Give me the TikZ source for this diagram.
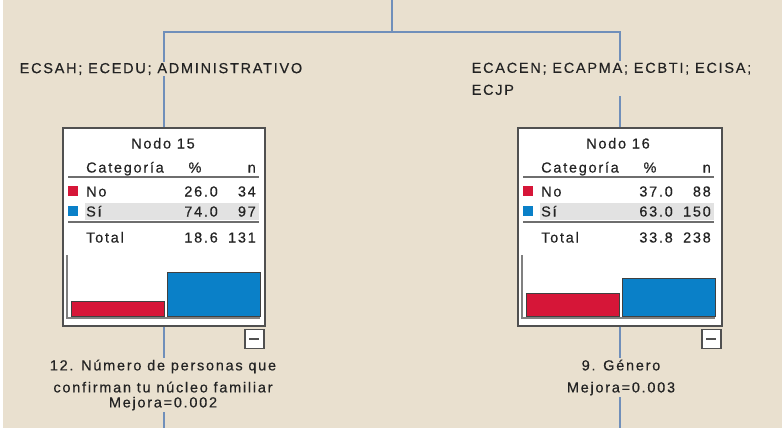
\documentclass[tikz,border=0pt]{standalone}
\usepackage{fontspec}
\setmainfont{Liberation Sans}[LetterSpace=12,FakeBold=0.4]
\definecolor{bg}{RGB}{233,224,207}
\definecolor{linec}{RGB}{112,143,186}
\definecolor{boxc}{RGB}{80,80,80}
\definecolor{redc}{RGB}{214,22,56}
\definecolor{bluec}{RGB}{10,128,200}
\definecolor{rowg}{RGB}{226,226,226}
\definecolor{ruleg}{RGB}{110,110,110}
\definecolor{txtc}{RGB}{35,35,35}
\tikzset{
  conn/.style={draw=linec, line width=1.8pt},
  lbl/.style={fill=bg, inner sep=1.5pt, text=txtc},
  nodebox/.style={draw=boxc, fill=white, line width=1.6pt, anchor=north west, inner sep=0pt},
  txt/.style={inner sep=0pt, text height=10pt, text depth=3pt, text=txtc},
  tabrule/.style={draw=ruleg, line width=2.2pt},
  bar/.style={draw=black!75, line width=1pt},
  minusbox/.style={draw=boxc, fill=white, line width=1.4pt, minimum width=19pt, minimum height=19pt, anchor=north east, inner sep=0pt},
}
\newcommand\pfx{}
\newcommand\NodeBody[9]{%
  \node[txt] (\pfx-title) at (101,18) {#1};
  \node[txt,anchor=west] (\pfx-cat) at (24,42) {Categoría};
  \node[txt] (\pfx-pc) at (133,42) {\%};
  \node[txt,anchor=east] (\pfx-n) at (194,42) {n};
  \draw[tabrule] (6,50) -- (197,50);
  \fill[rowg] (23,76) rectangle (197,93);
  \fill[redc] (6,59) rectangle (16,69);
  \fill[bluec] (6,79) rectangle (16,89);
  \node[txt,anchor=west] (\pfx-no) at (24,66) {No};
  \node[txt,anchor=east] (\pfx-nop) at (156,66) {#2};
  \node[txt,anchor=east] (\pfx-non) at (194,66) {#3};
  \node[txt,anchor=west] (\pfx-si) at (24,86) {Sí};
  \node[txt,anchor=east] (\pfx-sip) at (156,86) {#4};
  \node[txt,anchor=east] (\pfx-sin) at (194,86) {#5};
  \draw[tabrule] (6,95) -- (197,95);
  \node[txt,anchor=west] (\pfx-tot) at (24,112) {Total};
  \node[txt,anchor=east] (\pfx-totp) at (156,112) {#6};
  \node[txt,anchor=east] (\pfx-totn) at (194,112) {#7};
  \draw[draw=gray, line width=1.6pt] (5,128) -- (5,191) -- (198,191);
  \filldraw[bar, fill=redc] (9,#8) rectangle (102,189);
  \filldraw[bar, fill=bluec] (105,#9) rectangle (198,189);
}
\begin{document}
\begin{tikzpicture}[x=1pt,y=-1pt, font=\fontsize{14.5}{16}\selectfont]
\useasboundingbox (0,0) rectangle (782,428);
\fill[bg] (0,0) rectangle (782,428);
\fill[white] (0,0) rectangle (3,428);
% boxes
\node[nodebox, minimum width=202pt, minimum height=198pt] (n15) at (62,127) {};
\node[nodebox, minimum width=204pt, minimum height=198pt] (n16) at (517,127) {};
% connectors
\coordinate (root) at (392,0);
\coordinate (split) at (392,32);
\coordinate (e15) at (n15.south |- 0,428);
\coordinate (e16) at (n16.south |- 0,428);
\draw[conn] (root) -- (split);
\draw[conn] (split) -| (n15.north);
\draw[conn] (split) -| (n16.north);
\draw[conn] (n15.south) -- (e15);
\draw[conn] (n16.south) -- (e16);
% node bodies
\begin{scope}[shift={(n15.north west)}]
  \renewcommand\pfx{a}
  \NodeBody{Nodo 15}{26.0}{34}{74.0}{97}{18.6}{131}{174}{145}
\end{scope}
\begin{scope}[shift={(n16.north west)}]
  \renewcommand\pfx{b}
  \NodeBody{Nodo 16}{37.0}{88}{63.0}{150}{33.8}{238}{166}{151}
\end{scope}
\node[minusbox] (m15) at ([xshift=-1pt,yshift=-2pt]n15.south east) {};
\draw[boxc, line width=1.6pt] ([xshift=-5pt]m15.center) -- ([xshift=5pt]m15.center);
\node[minusbox] (m16) at ([xshift=-1pt,yshift=-2pt]n16.south east) {};
\draw[boxc, line width=1.6pt] ([xshift=-5pt]m16.center) -- ([xshift=5pt]m16.center);
% labels
\node[lbl, anchor=west] (l15) at (18,69) {ECSAH; ECEDU; ADMINISTRATIVO};
\node[lbl, anchor=north west, align=left, font=\fontsize{14.5}{22}\selectfont] (l16) at (470,61) {ECACEN; ECAPMA; ECBTI; ECISA;\\ECJP};
\node[lbl, anchor=north, align=center, font=\fontsize{14.5}{22}\selectfont] (q15) at (163,358) {12. Número de personas que\\confirman tu núcleo familiar\\[-7pt]Mejora=0.002};
\node[lbl, anchor=north, align=center, font=\fontsize{14.5}{22}\selectfont] (q16) at (621,358) {9. Género\\Mejora=0.003};
\end{tikzpicture}
\end{document}
